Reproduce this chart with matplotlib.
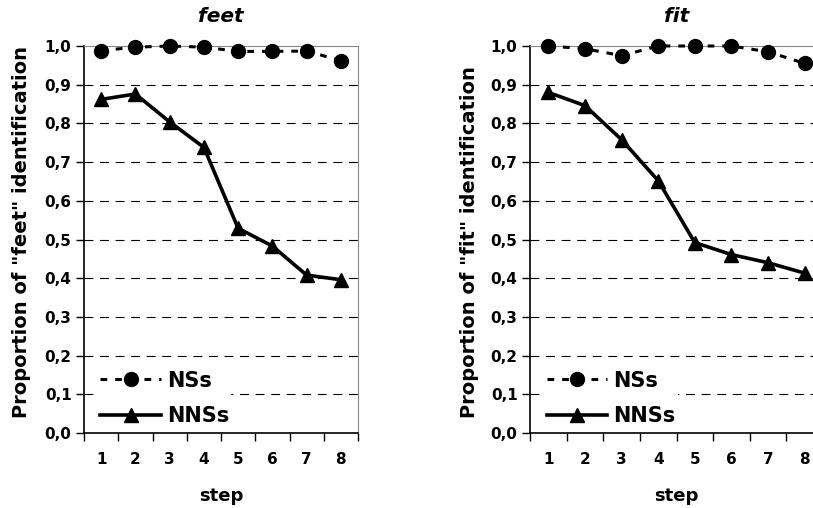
import matplotlib
matplotlib.use("Agg")
import matplotlib.pyplot as plt
from matplotlib.ticker import FixedLocator, FuncFormatter

steps = [1, 2, 3, 4, 5, 6, 7, 8]
feet_ns = [0.988, 0.997, 1.0, 0.997, 0.986, 0.986, 0.987, 0.962]
feet_nns = [0.862, 0.876, 0.804, 0.738, 0.529, 0.483, 0.408, 0.396]
fit_ns = [1.0, 0.993, 0.975, 1.0, 1.0, 1.0, 0.985, 0.955]
fit_nns = [0.880, 0.846, 0.758, 0.652, 0.492, 0.461, 0.440, 0.413]
yticks = [0.0, 0.1, 0.2, 0.3, 0.4, 0.5, 0.6, 0.7, 0.8, 0.9, 1.0]

plt.rcParams['font.family'] = ['DejaVu Sans']
plt.rcParams['font.weight'] = 'bold'

fig = plt.figure(figsize=(8.13, 5.08), dpi=100)

panels = [
    ("feet", feet_ns, feet_nns, [84/813, 1-433/508, 274/813, 387/508],
     'Proportion of "feet" identification', 22/813),
    ("fit", fit_ns, fit_nns, [530/813, 1-433/508, 293/813, 387/508],
     'Proportion of "fit" identification', 469/813),
]

for title, ns, nns, rect, ylab, ylx in panels:
    ax = fig.add_axes(rect)
    ax.set_xlim(0.5, 8.5)
    ax.set_ylim(0, 1.0)
    for y in yticks[1:-1]:
        ax.axhline(y, color='black', lw=0.8, ls=(0, (8, 6)), zorder=1)
    ax.plot(steps, ns, color='black', lw=2.2, ls=(0, (2.2, 2.6)), marker='o', ms=10,
            label='NSs', zorder=3, clip_on=False)
    ax.plot(steps, nns, color='black', lw=2.6, ls='-', marker='^', ms=10.5,
            label='NNSs', zorder=3, clip_on=False)
    ax.set_yticks(yticks)
    ax.yaxis.set_major_formatter(FuncFormatter(lambda v, p: f"{v:.1f}".replace('.', ',')))
    ax.set_xticks(steps)
    ax.set_xticklabels([str(s) for s in steps])
    ax.xaxis.set_minor_locator(FixedLocator([s + 0.5 for s in [0] + steps]))
    ax.tick_params(axis='x', which='major', length=0, pad=14, labelsize=11)
    ax.tick_params(axis='x', which='minor', length=6, width=1, direction='out')
    ax.tick_params(axis='y', which='major', length=6, width=1, direction='out', labelsize=11, pad=3)
    for lab in ax.get_xticklabels() + ax.get_yticklabels():
        lab.set_fontweight('bold')
    ax.spines['left'].set_color('black')
    ax.spines['bottom'].set_color('black')
    ax.spines['left'].set_linewidth(1.2)
    ax.spines['bottom'].set_linewidth(1.2)
    ax.spines['top'].set_color('#888888')
    ax.spines['right'].set_color('#888888')
    ax.set_title(title, fontsize=14.5, fontweight='bold', style='italic', pad=17)
    ax.set_xlabel('step', fontsize=13, fontweight='bold', labelpad=14)
    fig.text(ylx, 1 - 418/508, ylab, rotation=90, ha='center', va='bottom',
             fontsize=14, fontweight='bold')
    leg = ax.legend(loc='lower left', bbox_to_anchor=(0.018, -0.012), frameon=True,
                    fancybox=False, edgecolor='white', facecolor='white', framealpha=1,
                    handlelength=2.9, handletextpad=0.3, labelspacing=0.75,
                    prop={'weight': 'bold', 'size': 15}, borderpad=0.05)
    leg.set_zorder(2)

fig.savefig('out.png', dpi=100)
